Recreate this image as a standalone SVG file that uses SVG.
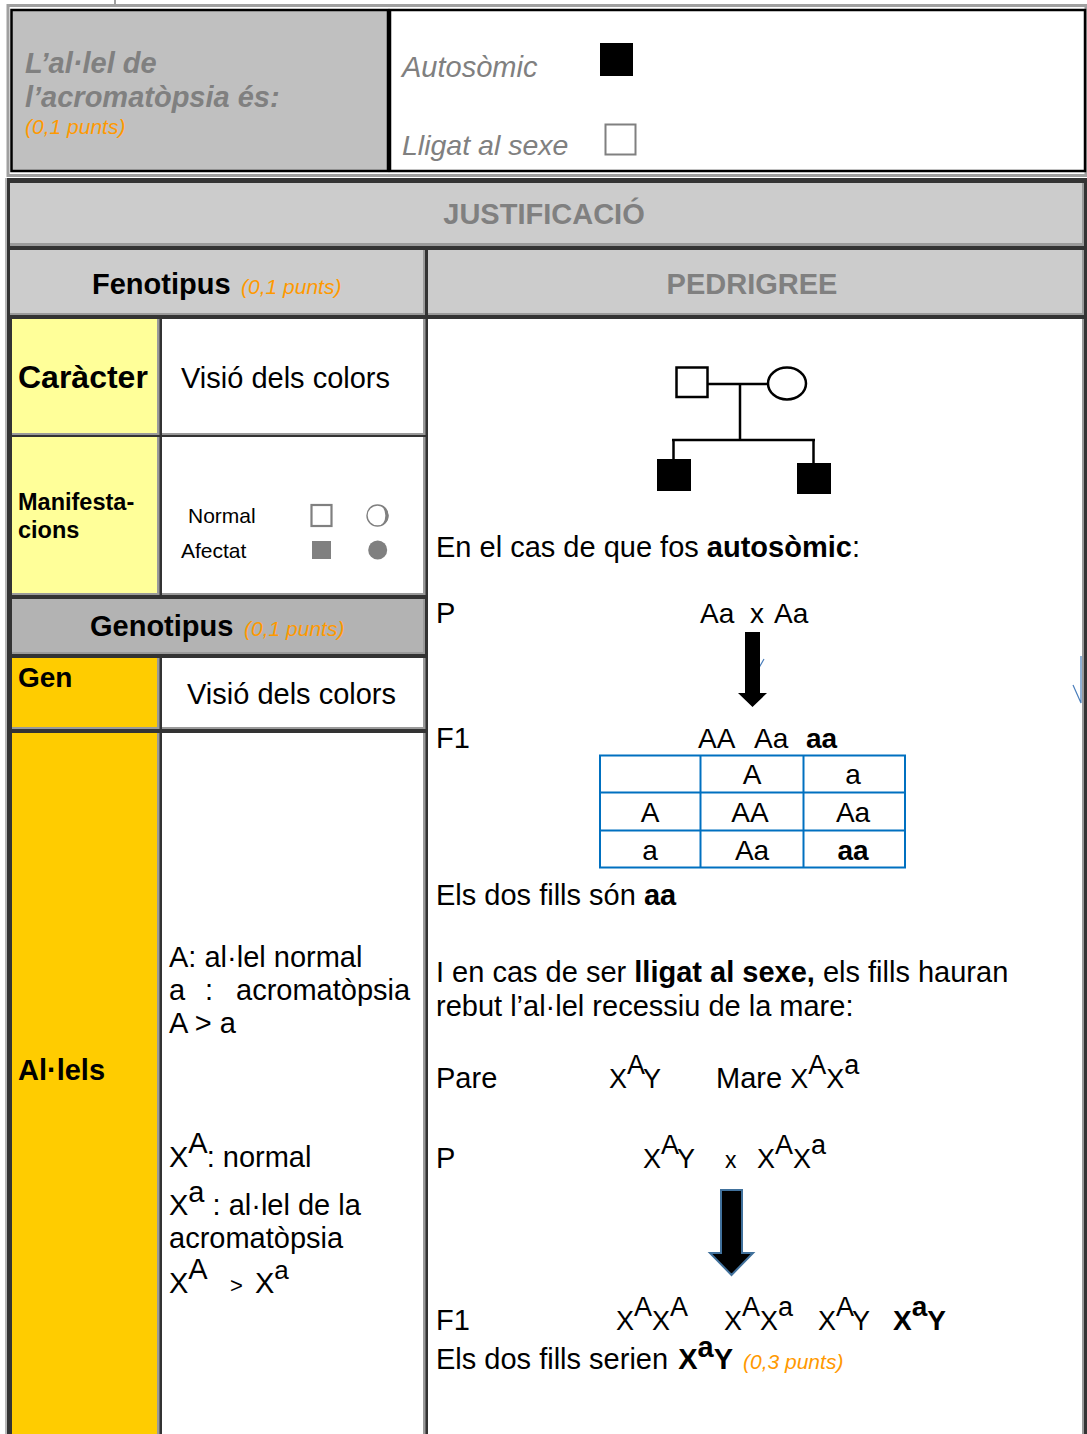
<svg xmlns="http://www.w3.org/2000/svg" width="1087" height="1434" viewBox="0 0 1087 1434">
<style>
text{font-family:"Liberation Sans",Arial,sans-serif;fill:#000}
.gt{fill:#808080}
.or{fill:#ff9900;font-style:italic;font-weight:normal}
.b{font-weight:bold}
.i{font-style:italic}
.s29{font-size:29px}
.s28{font-size:28px}
.shade{fill:#9a9a9a}
.pun{fill:none;stroke:#0070c0;stroke-width:2}
.ped{fill:none;stroke:#000;stroke-width:2.5}
.blue{fill:none;stroke:#4a7ebb;stroke-width:1.2}
</style>
<rect x="0" y="0" width="1087" height="1434" fill="#fff"/>

<!-- Section 1 -->
<g id="header-top">
<line x1="115" y1="0" x2="115" y2="5" stroke="#a0a0a0" stroke-width="2"/>
<rect x="8" y="5.5" width="1078" height="170" fill="none" stroke="#a0a0a0" stroke-width="3"/>
</g>
<g id="node-question">
<rect x="11.5" y="10" width="376.5" height="161" fill="#c0c0c0" stroke="#000" stroke-width="2.5"/>
<text x="25" y="73" class="b i gt" font-size="29">L’al·lel de</text>
<text x="25" y="107" class="b i gt" font-size="29">l’acromatòpsia és:</text>
<text x="25" y="134" class="or" font-size="21">(0,1 punts)</text>
</g>
<g id="node-answer">
<rect x="390" y="10" width="695" height="161" fill="#fff" stroke="#000" stroke-width="2.5"/>
<text x="402" y="77" class="i gt" font-size="29">Autosòmic</text>
<rect x="600" y="43" width="33" height="33" fill="#000"/>
<text x="402" y="155" class="i gt" font-size="28.5">Lligat al sexe</text>
<rect x="605.5" y="124.5" width="30" height="30" fill="#fff" stroke="#808080" stroke-width="2"/>
</g>

<!-- Section 2 frame -->
<rect x="7" y="178" width="1080" height="1256" fill="#333"/>
<line x1="6" y1="178" x2="6" y2="1434" stroke="#a0a0a0" stroke-width="1.5"/>

<g id="node-justificacio">
<rect class="shade" x="10" y="183" width="1074" height="63"/>
<rect x="10" y="183" width="1072" height="60" fill="#cccccc"/>
<text x="544" y="224" text-anchor="middle" class="b gt s29">JUSTIFICACIÓ</text>
</g>
<g id="node-fenotipus">
<rect class="shade" x="10" y="250" width="415" height="65"/>
<rect x="10" y="250" width="413" height="63" fill="#cccccc"/>
<text x="92" y="294" class="b s29">Fenotipus<tspan x="241" class="or" font-size="21">(0,1 punts)</tspan></text>
</g>
<g id="node-pedrigree-header">
<rect class="shade" x="428" y="250" width="656" height="65"/>
<rect x="428" y="250" width="654" height="63" fill="#cccccc"/>
<text x="752" y="294" text-anchor="middle" class="b gt s29">PEDRIGREE</text>
</g>

<g id="node-caracter">
<rect class="shade" x="12" y="319" width="147.5" height="116"/>
<rect x="12" y="319" width="145" height="114" fill="#ffff99"/>
<text x="18" y="388" class="b" font-size="32">Caràcter</text>
</g>
<g id="node-caracter-value">
<rect class="shade" x="162" y="319" width="263.5" height="116"/>
<rect x="162" y="319" width="261" height="114" fill="#fff"/>
<text x="181" y="388" class="s29">Visió dels colors</text>
</g>

<g id="node-manifestacions">
<rect class="shade" x="12" y="437" width="147.5" height="158"/>
<rect x="12" y="437" width="145" height="156" fill="#ffff99"/>
<text x="18" y="510" class="b" font-size="23.5">Manifesta-</text>
<text x="18" y="538" class="b" font-size="23.5">cions</text>
</g>
<g id="node-manifestacions-value">
<rect class="shade" x="162" y="437" width="263.5" height="158"/>
<rect x="162" y="437" width="261" height="156" fill="#fff"/>
<text x="188" y="523" font-size="21">Normal</text>
<text x="181" y="558" font-size="21">Afectat</text>
<rect x="311.5" y="505" width="20" height="21" fill="#fff" stroke="#808080" stroke-width="2.2"/>
<circle cx="377.5" cy="515.5" r="10.5" fill="#fff" stroke="#808080" stroke-width="1.4"/>
<path d="M378 505 A10.5 10.5 0 0 1 378 526 A7 10 0 0 0 378 505 Z" fill="#808080"/>
<rect x="312" y="541" width="19" height="18" fill="#808080"/>
<circle cx="377.7" cy="550" r="9.5" fill="#808080"/>
</g>

<g id="node-genotipus">
<rect class="shade" x="12" y="599" width="413" height="55"/>
<rect x="12" y="599" width="411" height="53" fill="#b3b3b3"/>
<text x="90" y="636" class="b s29">Genotipus<tspan x="244" class="or" font-size="21">(0,1 punts)</tspan></text>
</g>

<g id="node-gen">
<rect class="shade" x="12" y="658" width="147.5" height="71"/>
<rect x="12" y="658" width="145" height="69" fill="#ffcc00"/>
<text x="18" y="687" class="b" font-size="28">Gen</text>
</g>
<g id="node-gen-value">
<rect class="shade" x="162" y="658" width="263.5" height="71"/>
<rect x="162" y="658" width="261" height="69" fill="#fff"/>
<text x="187" y="704" class="s29">Visió dels colors</text>
</g>

<g id="node-allels">
<rect class="shade" x="12" y="733" width="147.5" height="701"/>
<rect x="12" y="733" width="145" height="701" fill="#ffcc00"/>
<text x="18" y="1080" class="b s29">Al·lels</text>
</g>
<g id="node-allels-value">
<rect class="shade" x="162" y="733" width="263.5" height="701"/>
<rect x="162" y="733" width="261" height="701" fill="#fff"/>
<text x="169" y="967" class="s29">A: al·lel normal</text>
<text y="1000" class="s29"><tspan x="169">a</tspan><tspan x="205">:</tspan><tspan x="236">acromatòpsia</tspan></text>
<text x="169" y="1033" class="s29">A &gt; a</text>
<text x="169" y="1167" class="s29">X<tspan dy="-14">A</tspan><tspan dy="14" dx="-1">: normal</tspan></text>
<text x="169" y="1215" class="s29">X<tspan dy="-13">a</tspan><tspan dy="13"> : al·lel de la</tspan></text>
<text x="169" y="1248" class="s29">acromatòpsia</text>
<text x="169" y="1293" class="s29">X<tspan dy="-14">A</tspan><tspan dy="14" x="230" font-size="22">&gt;</tspan><tspan x="255">X</tspan><tspan dy="-14" font-size="26">a</tspan></text>
</g>

<g id="node-pedigree">
<rect class="shade" x="428" y="319" width="656" height="1115"/>
<rect x="428" y="319" width="654" height="1115" fill="#fff"/>
<rect x="676.5" y="367.5" width="31" height="29.5" fill="#fff" stroke="#000" stroke-width="2.5"/>
<ellipse cx="787" cy="383.5" rx="19" ry="16" fill="#fff" stroke="#000" stroke-width="2.5"/>
<rect x="657" y="459" width="34" height="32" fill="#000"/>
<rect x="797" y="463" width="34" height="31" fill="#000"/>

<text x="436" y="557" class="s29">En el cas de que fos <tspan class="b">autosòmic</tspan>:</text>
<text x="436" y="623" class="s29">P</text>
<text y="623" class="s28"><tspan x="700">Aa</tspan><tspan x="750">x</tspan><tspan x="774">Aa</tspan></text>
<text x="436" y="748" class="s29">F1</text>
<text y="748" class="s28"><tspan x="698">AA</tspan><tspan x="754">Aa</tspan><tspan x="806" class="b">aa</tspan></text>

<g id="punnett">
<rect class="pun" x="600" y="755.5" width="305" height="112"/>
<line class="pun" x1="700.5" y1="755.5" x2="700.5" y2="867.5"/>
<line class="pun" x1="803.5" y1="755.5" x2="803.5" y2="867.5"/>
<line class="pun" x1="600" y1="792.5" x2="905" y2="792.5"/>
<line class="pun" x1="600" y1="830.5" x2="905" y2="830.5"/>
<g class="s28" text-anchor="middle">
<text x="752" y="784" class="s28">A</text>
<text x="853" y="784" class="s28">a</text>
<text x="650" y="822" class="s28">A</text>
<text x="750" y="822" class="s28">AA</text>
<text x="853" y="822" class="s28">Aa</text>
<text x="650" y="860" class="s28">a</text>
<text x="752" y="860" class="s28">Aa</text>
<text x="853" y="860" class="s28 b">aa</text>
</g>
</g>

<text x="436" y="905" class="s29">Els dos fills són <tspan class="b">aa</tspan></text>
<text x="436" y="982" class="s29">I en cas de ser <tspan class="b">lligat al sexe,</tspan> els fills hauran</text>
<text x="436" y="1016" class="s29">rebut l’al·lel recessiu de la mare:</text>

<text x="436" y="1088" class="s29">Pare</text>
<text x="609" y="1088" font-size="27">X<tspan dy="-14">A</tspan><tspan dy="14">Y</tspan></text>
<text x="716" y="1088" class="s29">Mare <tspan font-size="27">X</tspan><tspan font-size="27" dy="-14">A</tspan><tspan font-size="27" dy="14">X</tspan><tspan font-size="27" dy="-14">a</tspan></text>

<text x="436" y="1168" class="s29">P</text>
<text x="643" y="1168" font-size="27">X<tspan dy="-14">A</tspan><tspan dy="14">Y</tspan></text>
<text x="725" y="1168" font-size="23">x</text>
<text x="757" y="1168" font-size="27">X<tspan dy="-14">A</tspan><tspan dy="14">X</tspan><tspan dy="-14">a</tspan></text>

<text x="436" y="1330" class="s29">F1</text>
<text x="616" y="1330" font-size="27">X<tspan dy="-14">A</tspan><tspan dy="14">X</tspan><tspan dy="-14">A</tspan></text>
<text x="724" y="1330" font-size="27">X<tspan dy="-14">A</tspan><tspan dy="14">X</tspan><tspan dy="-14">a</tspan></text>
<text x="818" y="1330" font-size="27">X<tspan dy="-14">A</tspan><tspan dy="14">Y</tspan></text>
<text x="893" y="1330" font-size="28" class="b">X<tspan dy="-14">a</tspan><tspan dy="14">Y</tspan></text>

<text x="436" y="1369" class="s29">Els dos fills serien <tspan class="b" dx="2">X</tspan><tspan class="b" dy="-12">a</tspan><tspan class="b" dy="12">Y</tspan><tspan class="or" font-size="21" dx="10">(0,3 punts)</tspan></text>
</g>

<!-- Connectors -->
<g id="connectors">
<line class="ped" x1="707.5" y1="384" x2="768" y2="384"/>
<line class="ped" x1="740" y1="384" x2="740" y2="441"/>
<line class="ped" x1="672" y1="440" x2="815" y2="440"/>
<line class="ped" x1="673.5" y1="440" x2="673.5" y2="460"/>
<line class="ped" x1="813.5" y1="440" x2="813.5" y2="464"/>
<polyline class="blue" points="746,667 753,678 764,659"/>
<polygon points="745,632 760,632 760,693 767,693 752.5,707 738,693 745,693" fill="#000"/>
<polygon points="721,1190 742,1190 742,1253 753,1253 731.5,1275 710,1253 721,1253" fill="#000" stroke="#41719c" stroke-width="2"/>
<polyline class="blue" points="1073,685 1081,703 1081,656"/>
</g>
</svg>
